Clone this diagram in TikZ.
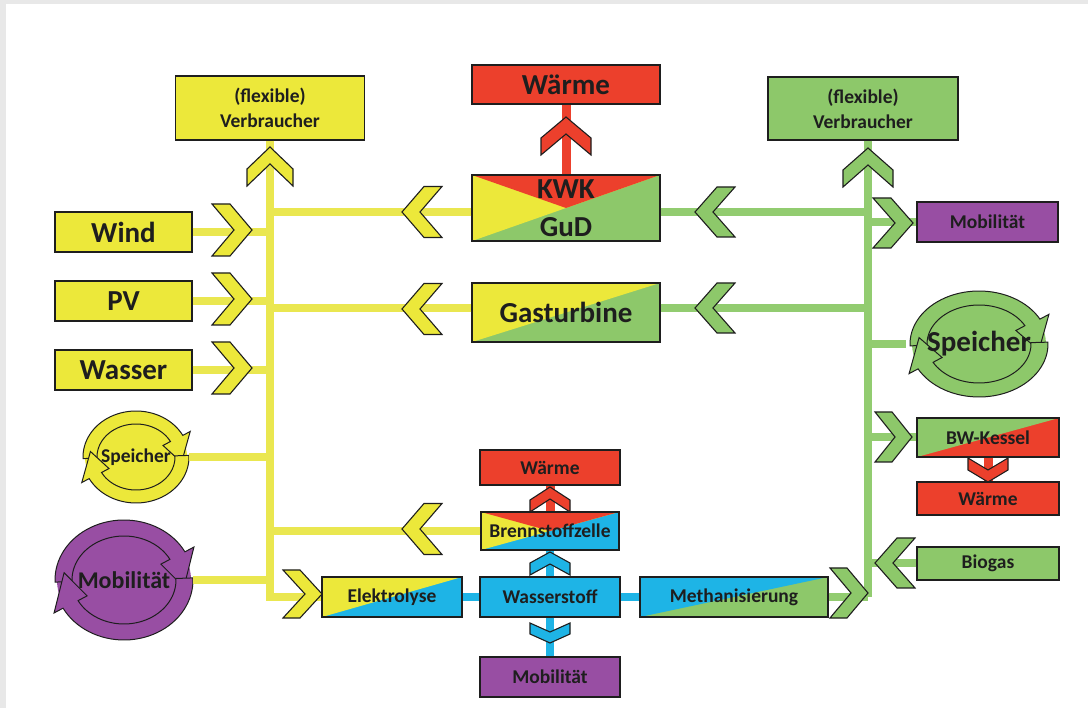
\documentclass[tikz,border=0pt]{standalone}
\usepackage{fontspec}
\setmainfont{Carlito}
\usetikzlibrary{shapes.geometric}
\definecolor{cY}{RGB}{236,232,58}
\definecolor{cYl}{RGB}{234,231,80}
\definecolor{cG}{RGB}{141,200,106}
\definecolor{cGl}{RGB}{146,204,112}
\definecolor{cR}{RGB}{236,64,44}
\definecolor{cB}{RGB}{30,180,230}
\definecolor{cP}{RGB}{152,78,163}
\definecolor{cK}{RGB}{30,30,30}
\definecolor{cBg}{RGB}{232,232,232}
\newcommand{\chev}[7]{\begin{scope}[shift={(#1,#2)},rotate=#3]\filldraw[#7] ({-#4/2},{-#5/2}) -- ({-#4/2+#6},{-#5/2}) -- ({#4/2},0) -- ({-#4/2+#6},{#5/2}) -- ({-#4/2},{#5/2}) -- ({#4/2-#6},0) -- cycle;\end{scope}}
\newcommand{\ringarrows}[7]{%
\pgfmathsetmacro{\ringe}{0.6*(#3-#5)}%
\pgfmathsetmacro{\ringam}{(#3+#5)/2}%
\pgfmathsetmacro{\ringbm}{(#4+#6)/2}%
\fill[#7] (#1,#2) ellipse[x radius=#3-2, y radius=#4-2];
\filldraw[fill=#7,ring] plot[domain=178:332,samples=40] ({#1+#3*cos(\x)},{#2+#4*sin(\x)}) -- ({#1+(#3+\ringe)*cos(332)},{#2+(#4+\ringe)*sin(332)}) -- ({#1+\ringam*cos(368)},{#2+\ringbm*sin(368)}) -- ({#1+(#5-\ringe)*cos(332)},{#2+(#6-\ringe)*sin(332)}) -- plot[domain=332:178,samples=40] ({#1+#5*cos(\x)},{#2+#6*sin(\x)}) -- cycle;
\filldraw[fill=#7,ring] plot[domain=-2:152,samples=40] ({#1+#3*cos(\x)},{#2+#4*sin(\x)}) -- ({#1+(#3+\ringe)*cos(152)},{#2+(#4+\ringe)*sin(152)}) -- ({#1+\ringam*cos(188)},{#2+\ringbm*sin(188)}) -- ({#1+(#5-\ringe)*cos(152)},{#2+(#6-\ringe)*sin(152)}) -- plot[domain=152:-2,samples=40] ({#1+#5*cos(\x)},{#2+#6*sin(\x)}) -- cycle;}
\begin{document}
\begin{tikzpicture}[x=1pt,y=-1pt,
  box/.style={draw=cK, line width=1.2pt, inner sep=0pt, text=cK, align=center},
  big/.style={font=\fontsize{29}{32}\selectfont\bfseries},
  sml/.style={font=\fontsize{19.5}{25}\selectfont\bfseries},
  yl/.style={draw=cYl, line width=8pt},
  gl/.style={draw=cGl, line width=8pt},
  bl/.style={draw=cB, line width=8pt},
  rl/.style={draw=cR, line width=9pt},
  chY/.style={fill=cY, draw=cK, line width=1.1pt},
  chG/.style={fill=cG, draw=cK, line width=1.1pt},
  chR/.style={fill=cR, draw=cK, line width=1.1pt},
  chB/.style={fill=cB, draw=cK, line width=1.1pt},
  ring/.style={draw=cK, line width=1pt},
  diag/.style 2 args={fill=#2, path picture={
    \fill[#1] (path picture bounding box.south west) -- (path picture bounding box.north west) -- (path picture bounding box.north east) -- cycle;}},
  vee/.style n args={3}{fill=#3, path picture={
    \fill[#1] (path picture bounding box.south west) -- (path picture bounding box.north west) -- (path picture bounding box.north east) -- cycle;
    \fill[#2] (path picture bounding box.north west) -- (path picture bounding box.north east) -- (path picture bounding box.center) -- cycle;}},
  circ/.style={ellipse, inner sep=0pt, text=cK}
]
\useasboundingbox (0,0) rectangle (1088,708);
\fill[cBg] (0,0) rectangle (1088,708);
\fill[white] (6,4) rectangle (1088,708);

% ring arrows
\ringarrows{136}{457}{53}{46}{39}{33}{cY}
\ringarrows{124}{580}{69}{60}{52}{44}{cP}
\ringarrows{979}{344}{69}{53}{52}{39}{cG}

% nodes
\node[box,sml,fill=cY,minimum width=189pt,minimum height=64pt] (vL) at (270,108) {(flexible)\\Verbraucher};
\node[box,sml,fill=cG,minimum width=190pt,minimum height=63pt] (vR) at (863,108.5) {(flexible)\\Verbraucher};
\node[box,big,fill=cY,minimum width=137pt,minimum height=40pt] (wind) at (123.5,232) {Wind};
\node[box,big,fill=cY,minimum width=137pt,minimum height=40pt] (pv) at (123.5,301) {PV};
\node[box,big,fill=cY,minimum width=137pt,minimum height=40pt] (wasser) at (123.5,370) {Wasser};
\node[box,big,fill=cR,minimum width=188pt,minimum height=39pt] (waermeT) at (566,84.5) {Wärme};
\node[box,vee={cY}{cR}{cG},minimum width=188pt,minimum height=66pt,font=\fontsize{29}{38}\selectfont\bfseries] (kwk) at (566,208) {KWK\\GuD};
\node[box,big,diag={cY}{cG},minimum width=188pt,minimum height=59pt] (gas) at (566,312.5) {\raisebox{-4pt}{Gasturbine}};
\node[box,sml,fill=cP,minimum width=141pt,minimum height=40pt] (mobR) at (987.5,222) {Mobilität};
\node[circ,font=\fontsize{29}{32}\selectfont\bfseries,minimum width=138pt,minimum height=106pt] (speiR) at (979,344) {Speicher};
\node[box,sml,diag={cG}{cR},minimum width=142pt,minimum height=39pt] (bwk) at (988,437.5) {BW-Kessel};
\node[box,sml,fill=cR,minimum width=142pt,minimum height=33pt] (waermeR) at (988,498.5) {Wärme};
\node[box,sml,fill=cG,minimum width=142pt,minimum height=33pt] (biogas) at (988,563.5) {Biogas};
\node[box,sml,diag={cB}{cG},minimum width=188pt,minimum height=40pt] (meth) at (734,597) {Methanisierung};
\node[box,sml,fill=cB,minimum width=140pt,minimum height=40pt] (wasserstoff) at (550,597) {Wasserstoff};
\node[box,sml,diag={cY}{cB},minimum width=140pt,minimum height=40pt] (elektro) at (392,597) {Elektrolyse};
\node[box,sml,vee={cY}{cR}{cB},minimum width=138pt,minimum height=38pt] (brenn) at (550,531) {Brennstoffzelle};
\node[box,sml,fill=cR,minimum width=140pt,minimum height=35pt] (waermeM) at (550,467.5) {Wärme};
\node[box,sml,fill=cP,minimum width=140pt,minimum height=40pt] (mobM) at (550,677) {Mobilität};
\node[circ,sml,minimum width=106pt,minimum height=92pt] (speiL) at (136,457) {Speicher};
\node[circ,font=\fontsize{24}{26}\selectfont\bfseries,minimum width=138pt,minimum height=120pt] (mobL) at (124,580) {Mobilität};

% buses
\coordinate (yb) at (270,597);
\coordinate (gb) at (868,597);
\draw[yl] (yb |- vL.south) -- (yb) -- (elektro.west);
\draw[gl] (gb |- vR.south) -- (gb);

% yellow lines
\draw[yl] (wind.east) -- (wind.east -| yb);
\draw[yl] (pv.east) -- (pv.east -| yb);
\draw[yl] (wasser.east) -- (wasser.east -| yb);
\draw[yl] ([yshift=-4pt]kwk.west) -- ([yshift=-4pt]kwk.west -| yb);
\draw[yl] ([yshift=4pt]gas.west) -- ([yshift=4pt]gas.west -| yb);
\draw[yl] (brenn.west) -- (brenn.west -| yb);
\draw[yl] (speiL) -- (speiL -| yb);
\draw[yl] (mobL) -- (mobL -| yb);

% green lines
\draw[gl] ([yshift=-4pt]kwk.east) -- ([yshift=-4pt]kwk.east -| gb);
\draw[gl] ([yshift=4pt]gas.east) -- ([yshift=4pt]gas.east -| gb);
\draw[gl] (mobR.west) -- (mobR.west -| gb);
\draw[gl] (speiR) -- (speiR -| gb);
\draw[gl] (bwk.west) -- (bwk.west -| gb);
\draw[gl] (biogas.west) -- (biogas.west -| gb);
\draw[gl] (meth.east) -- (meth.east -| gb);

% blue lines
\draw[bl] (elektro.east) -- (wasserstoff.west);
\draw[bl] (wasserstoff.east) -- (meth.west);
\draw[bl] (wasserstoff.north) -- (brenn.south);
\draw[bl] (wasserstoff.south) -- (mobM.north);

% red lines
\draw[rl] (kwk.north) -- (waermeT.south);
\draw[rl] (brenn.north) -- (waermeM.south);
\draw[rl] (bwk.south) -- (waermeR.north);

% chevrons yellow
\chev{270}{166.5}{90}{39}{46}{17}{chY}
\chev{232}{230}{0}{40}{52}{18}{chY}
\chev{232}{299}{0}{40}{52}{18}{chY}
\chev{232}{368}{0}{40}{52}{18}{chY}
\chev{422}{212}{180}{40}{51}{18}{chY}
\chev{422}{309}{180}{40}{51}{18}{chY}
\chev{422}{529}{180}{40}{51}{18}{chY}
\chev{302.5}{594}{0}{39}{48}{17}{chY}
% chevrons green
\chev{868}{167.5}{90}{39}{50}{17}{chG}
\chev{715}{212}{180}{40}{50}{18}{chG}
\chev{715}{308}{180}{40}{50}{18}{chG}
\chev{893}{223}{0}{40}{50}{18}{chG}
\chev{893.5}{437}{0}{37}{50}{17}{chG}
\chev{895}{563}{180}{40}{50}{18}{chG}
\chev{849}{593}{0}{38}{50}{17}{chG}
% chevrons red
\chev{566}{136}{90}{38}{50}{17}{chR}
\chev{550}{499.5}{90}{25}{40}{12}{chR}
\chev{988}{470}{-90}{24}{40}{12}{chR}
% chevrons blue
\chev{550}{563.5}{90}{23}{40}{12}{chB}
\chev{550}{633}{-90}{20}{40}{11}{chB}
\end{tikzpicture}
\end{document}
